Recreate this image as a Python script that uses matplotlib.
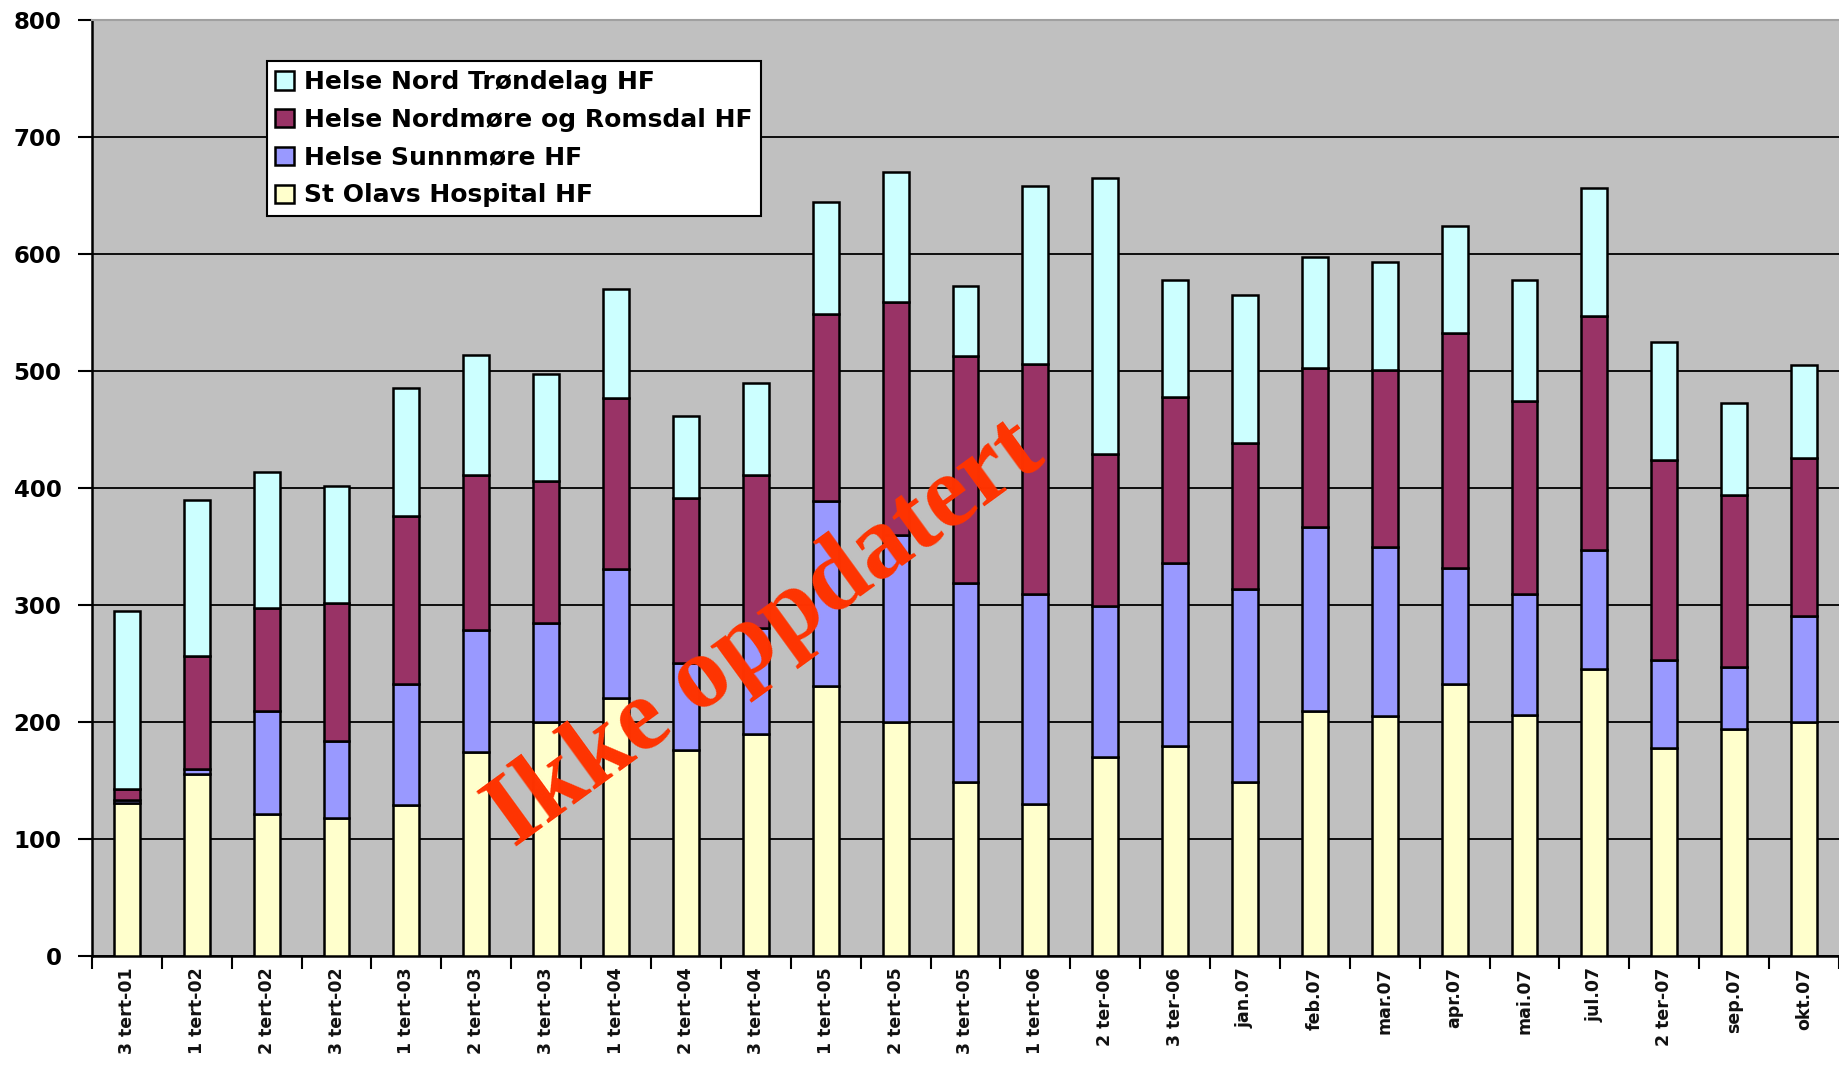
import numpy as np
import matplotlib
matplotlib.use("Agg")
import matplotlib.pyplot as plt

# kategorier (tertial / maaned)
labels = ["3 tert-01", "1 tert-02", "2 tert-02", "3 tert-02", "1 tert-03",
          "2 tert-03", "3 tert-03", "1 tert-04", "2 tert-04", "3 tert-04",
          "1 tert-05", "2 tert-05", "3 tert-05", "1 tert-06", "2 ter-06",
          "3 ter-06", "jan.07", "feb.07", "mar.07", "apr.07", "mai.07",
          "jul.07", "2 ter-07", "sep.07", "okt.07"]

# verdier per helseforetak (stablet nedenfra og opp)
st_olavs = [131, 156, 122, 118, 129, 175, 200, 221, 176, 190, 231, 200, 149,
            130, 170, 180, 149, 210, 205, 233, 206, 246, 178, 194, 200]
sunnmore = [3, 4, 88, 66, 104, 104, 85, 110, 75, 91, 158, 160, 170,
            180, 129, 156, 165, 157, 145, 99, 104, 101, 75, 53, 91]
nordmore = [9, 97, 88, 118, 143, 132, 121, 146, 141, 130, 160, 199, 194,
            196, 130, 142, 125, 136, 151, 201, 165, 200, 171, 147, 135]
nord_trondelag = [152, 133, 116, 100, 110, 103, 92, 93, 70, 79, 96, 111, 60,
                  152, 236, 100, 126, 95, 92, 91, 103, 110, 101, 79, 79]

series = [
    ("St Olavs Hospital HF", st_olavs, "#FFFFCC"),
    ("Helse Sunnmøre HF", sunnmore, "#9999FF"),
    ("Helse Nordmøre og Romsdal HF", nordmore, "#993366"),
    ("Helse Nord Trøndelag HF", nord_trondelag, "#CCFFFF"),
]

fig = plt.figure(figsize=(18.39, 10.65), dpi=100)
ax = fig.add_axes([0.05, 0.102, 0.95, 0.879])
ax.set_facecolor("#C0C0C0")

x = np.arange(len(labels))
bottom = np.zeros(len(labels))
handles = []
for name, vals, col in series:
    b = ax.bar(x, vals, width=0.37, bottom=bottom, color=col,
               edgecolor="black", linewidth=1.8, label=name, zorder=3)
    handles.append(b)
    bottom += np.array(vals)

ax.set_xlim(-0.5, len(labels) - 0.5)
ax.set_ylim(0, 800)
ax.set_yticks(np.arange(0, 801, 100))
ax.yaxis.grid(True, color="black", linewidth=1.3, zorder=1)
ax.set_axisbelow(True)

ax.set_xticks(x)
ax.set_xticklabels(labels, rotation=90, fontsize=12.5, fontweight="bold",
                   color="#111111")
ax.set_xticks(np.arange(-0.5, len(labels)), minor=True)
ax.tick_params(axis="x", which="major", length=0, pad=8)
ax.tick_params(axis="x", which="minor", length=9, width=1.5, direction="out")
ax.tick_params(axis="y", length=10, width=1.5, direction="out", pad=12)
for t in ax.get_yticklabels():
    t.set_fontsize(16.5)
    t.set_fontweight("heavy")

ax.spines["left"].set_linewidth(1.8)
ax.spines["bottom"].set_linewidth(1.8)
ax.spines["right"].set_visible(False)
ax.spines["top"].set_color("#A0A0A0")
ax.spines["top"].set_linewidth(1.5)

leg = ax.legend(handles[::-1], [s[0] for s in series][::-1],
                loc="upper left", bbox_to_anchor=(0.1, 0.956),
                borderaxespad=0, fancybox=False, framealpha=1,
                edgecolor="black", handlelength=0.75, handleheight=0.75,
                handletextpad=0.4, labelspacing=0.55, borderpad=0.35,
                prop={"size": 18, "weight": "bold"})
leg.get_frame().set_linewidth(1.5)
leg.set_zorder(5)

# vannmerke
ax.text(9.14, 275, "Ikke oppdatert", rotation=36, rotation_mode="anchor",
        ha="center", va="center", fontsize=74, fontweight="bold",
        color="#FF3300", family="Liberation Serif", zorder=6)

fig.savefig("out.png", dpi=100, facecolor="white")
